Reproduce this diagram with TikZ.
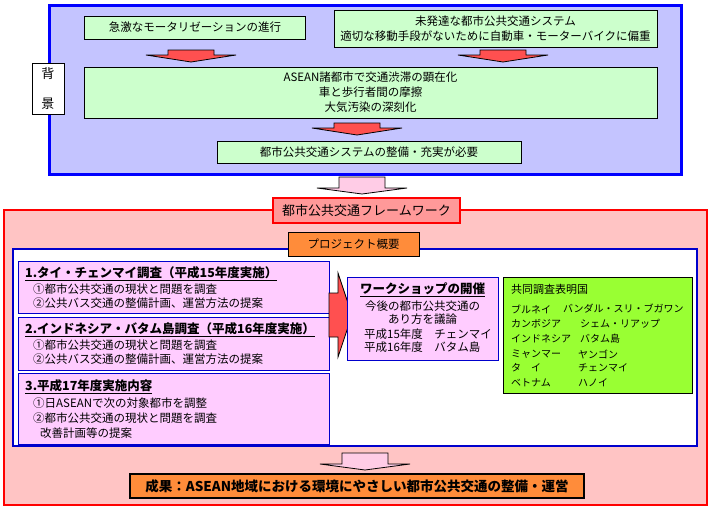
\documentclass[tikz,border=0pt]{standalone}
\usepackage{fontspec}
\setmainfont{Noto Sans CJK JP}
\usetikzlibrary{patterns.meta}
\definecolor{lgreen}{HTML}{CCFFCC}
\definecolor{pinkbox}{HTML}{FFCCFF}
\definecolor{arrred}{HTML}{FF5050}
\definecolor{arrpink}{HTML}{FFCCE6}
\definecolor{salmon}{HTML}{FF9999}
\definecolor{orangebox}{HTML}{FF8C3A}
\definecolor{greenbox}{HTML}{99FF33}
\definecolor{pureblue}{HTML}{0000FF}
\definecolor{darkblue}{HTML}{0000CC}
\newcommand\myfn{\fontsize{11.5pt}{15pt}\selectfont}
\newcommand\mytf{\fontsize{12.5pt}{15pt}\selectfont\bfseries}
\newcommand\mygf{\fontsize{10pt}{15pt}\selectfont}
\tikzset{
  frame/.style={inner sep=0pt, outer sep=0pt},
  gbox/.style={frame, draw=black, line width=0.8pt, fill=lgreen, align=center, font=\myfn},
  pbox/.style={frame, draw=darkblue, line width=0.8pt, fill=pinkbox},
  txt/.style={inner sep=0pt, anchor=west, font=\myfn},
  ttl/.style={inner sep=0pt, anchor=west, font=\mytf},
  gtxt/.style={inner sep=0pt, anchor=west, font=\mygf},
  arrline/.style={draw=black, line width=0.8pt, line join=miter},
  redarr/.pic={\path[arrline, fill=arrred] (-23,0) -- (23,0) -- (23,5) -- (45,5) -- (0,12) -- (-45,5) -- (-23,5) -- cycle;},
  pinkarr/.pic={\path[arrline, fill=arrpink] (-23,0) -- (23,0) -- (23,11) -- (45,11) -- (0,17) -- (-45,11) -- (-23,11) -- cycle;}
}
\begin{document}
\begin{tikzpicture}[x=1pt,y=-1pt]
\useasboundingbox[fill=white] (0,0) rectangle (710,507);

% ---------- background block ----------
\node[frame, draw=pureblue, line width=3pt, pattern={Dots[distance=2pt, radius=0.55pt]}, pattern color=pureblue,
      minimum width=632pt, minimum height=169pt] (bg) at (365.5,90) {};
\node[frame, draw=black, line width=0.8pt, fill=white, minimum width=32pt, minimum height=51pt,
      align=center, font=\fontsize{13pt}{30pt}\selectfont] (haikei) at (48,88.5) {背\\景};

\node[gbox, minimum width=221pt, minimum height=23pt] (b1) at (195,27.5) {急激なモータリゼーションの進行};
\node[gbox, minimum width=323pt, minimum height=37pt] (b2) at (495.5,28.5)
  {未発達な都市公共交通システム\\適切な移動手段がないために自動車・モーターバイクに偏重};
\node[gbox, minimum width=573pt, minimum height=51pt] (b3) at (370.5,92.5)
  {ASEAN諸都市で交通渋滞の顕在化\\車と歩行者間の摩擦\\大気汚染の深刻化};
\node[gbox, minimum width=304pt, minimum height=22pt] (b4) at (369,152) {都市公共交通システムの整備・充実が必要};

\coordinate (a1) at (191,50);
\coordinate (a2) at (503,50);
\coordinate (a3) at (357,123);
\pic at (a1) {redarr};
\pic at (a2) {redarr};
\pic at (a3) {redarr};

% ---------- pink arrow to framework ----------
\coordinate (pa1) at (362,177);
\pic at (pa1) {pinkarr};

% ---------- framework block ----------
\node[frame, draw=red, line width=2pt, pattern={Dots[distance=2pt, radius=0.55pt]}, pattern color=red,
      minimum width=703pt, minimum height=295pt] (fw) at (355.5,357.5) {};
\node[frame, draw=red, line width=2pt, fill=salmon, minimum width=187pt, minimum height=25pt,
      font=\fontsize{13pt}{15pt}\selectfont] (fwt) at (366.5,210.5) {都市公共交通フレームワーク};

\node[frame, draw=darkblue, line width=2pt, fill=white, minimum width=684pt, minimum height=197pt] (inner) at (355,347.5) {};
\node[frame, draw=black, line width=0.8pt, fill=orangebox, minimum width=131pt, minimum height=24pt,
      font=\myfn] (proj) at (353.5,244) {プロジェクト概要};

% pink boxes
\node[pbox, minimum width=311pt, minimum height=52pt] (p1) at (173.5,287) {};
\node[pbox, minimum width=311pt, minimum height=53pt] (p2) at (173.5,343.5) {};
\node[pbox, minimum width=311pt, minimum height=71pt] (p3) at (173.5,408.5) {};

\node[ttl] (p1t) at (25,274) {\underline{1.タイ・チェンマイ調査（平成15年度実施）}};
\node[txt] (p1a) at (33,289) {①都市公共交通の現状と問題を調査};
\node[txt] (p1b) at (33,303) {②公共バス交通の整備計画、運営方法の提案};

\node[ttl] (p2t) at (25,330) {\underline{2.インドネシア・バタム島調査（平成16年度実施）}};
\node[txt] (p2a) at (33,345) {①都市公共交通の現状と問題を調査};
\node[txt] (p2b) at (33,359) {②公共バス交通の整備計画、運営方法の提案};

\node[ttl] (p3t) at (25,387) {\underline{3.平成17年度実施内容}};
\node[txt] (p3a) at (33,403) {①日ASEANで次の対象都市を調整};
\node[txt] (p3b) at (33,418) {②都市公共交通の現状と問題を調査};
\node[txt] (p3c) at (40,433) {改善計画等の提案};

% right arrow
\path[arrline, fill=arrred] (329,293) -- (338,293) -- (338,273) -- (352,315) -- (338,357) -- (338,337) -- (329,337) -- cycle;

% workshop
\node[pbox, minimum width=151pt, minimum height=83pt] (ws) at (422.5,318.5) {};
\node[inner sep=0pt, font=\mytf] (wst) at (422.5,290) {\underline{ワークショップの開催}};
\node[inner sep=0pt, font=\myfn] (ws1) at (422.5,306) {今後の都市公共交通の};
\node[inner sep=0pt, font=\myfn] (ws2) at (422.5,319) {あり方を議論};
\node[txt] (ws3) at (364,334) {平成15年度　チェンマイ};
\node[txt] (ws4) at (364,347) {平成16年度　バタム島};

% green box
\node[frame, draw=black, line width=0.8pt, fill=greenbox, minimum width=189pt, minimum height=116pt] (gr) at (597.5,335) {};
\node[gtxt, font=\fontsize{11pt}{15pt}\selectfont] (grt) at (511,289) {共同調査表明国};
\node[gtxt] (g1a) at (511,309) {ブルネイ};
\node[gtxt] (g1b) at (563,309) {バンダル・スリ・ブガワン};
\node[gtxt] (g2a) at (511,324) {カンボジア};
\node[gtxt] (g2b) at (580,324) {シェム・リアップ};
\node[gtxt] (g3a) at (511,339) {インドネシア};
\node[gtxt] (g3b) at (580,339) {バタム島};
\node[gtxt] (g4a) at (511,354) {ミャンマー};
\node[gtxt] (g4b) at (578,354) {ヤンゴン};
\node[gtxt] (g5a) at (511,368) {タ　イ};
\node[gtxt] (g5b) at (578,368) {チェンマイ};
\node[gtxt] (g6a) at (511,383) {ベトナム};
\node[gtxt] (g6b) at (578,383) {ハノイ};

% bottom arrow and result
\coordinate (pa2) at (365,453);
\pic at (pa2) {pinkarr};
\node[frame, draw=black, line width=1.2pt, fill=orangebox, minimum width=454pt, minimum height=24pt,
      font=\fontsize{13.5pt}{15pt}\selectfont\bfseries] (res) at (357,486)
  {成果：ASEAN地域における環境にやさしい都市公共交通の整備・運営};
\end{tikzpicture}
\end{document}
